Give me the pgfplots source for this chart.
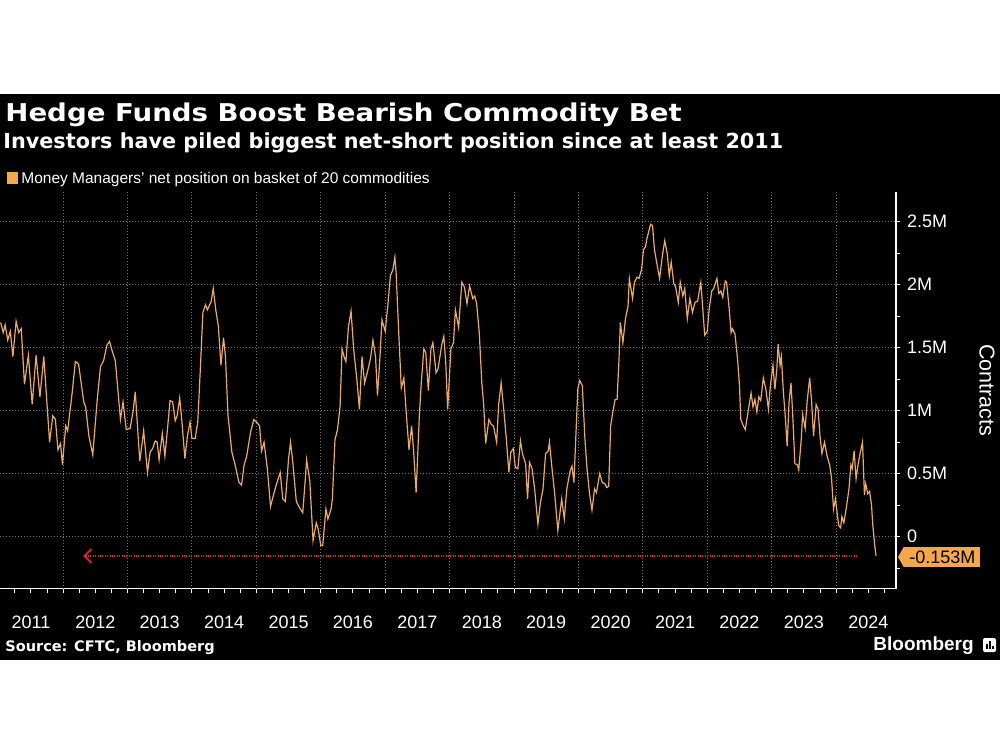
\documentclass[border=0pt]{standalone}
\usepackage{fontspec}
\setmainfont{Liberation Sans}
\newfontfamily\dv{DejaVu Sans}
\usepackage{pgfplots}
\pgfplotsset{compat=1.18}
\usetikzlibrary{arrows.meta}

\definecolor{lineor}{RGB}{236,170,105}
\definecolor{boxor}{RGB}{245,167,75}
\definecolor{gridgray}{RGB}{115,115,115}
\definecolor{sepgray}{RGB}{140,140,140}
\definecolor{redline}{RGB}{210,40,60}

\begin{document}
\begin{tikzpicture}[x=0.5pt,y=0.5pt]
% 1 unit = 1 px of the 1000x750 reference, y measured from the bottom
\useasboundingbox (0,0) rectangle (1000,750);
\fill[white] (0,0) rectangle (1000,750);
\fill[black] (0,90) rectangle (1000,656);

\begin{axis}[
  at={(0,128)}, anchor=south west,
  scale only axis, width=448pt, height=198.5pt,
  xmin=2011.02, xmax=2024.93, ymin=-0.413, ymax=2.738,
  axis x line*=bottom, axis y line*=right,
  axis line style={white, line width=0.6pt},
  tick align=outside,
  major tick length=2pt, minor tick length=2pt,
  tick style={white, line width=0.5pt},
  xtick={2011.5,2012.5,...,2024.5},
  xticklabels={2011,2012,2013,2014,2015,2016,2017,2018,2019,2020,2021,2022,2023,2024},
  minor xtick={2011.25,2011.5,...,2024.75},
  extra x ticks={2012,2013,...,2024},
  extra x tick labels={},
  extra x tick style={grid=major},
  ytick={0,0.5,...,2.5},
  yticklabels={0,0.5M,1M,1.5M,2M,2.5M},
  minor ytick={-0.25,0.25,...,2.25},
  ymajorgrids,
  major grid style={gridgray, line width=0.5pt, dash pattern=on 0.5pt off 1pt},
  ticklabel style={white, font=\fontsize{9}{10}\selectfont},
  xticklabel style={yshift=-8pt},
  ylabel={Contracts},
  every axis y label/.style={at={(rel axis cs:1,0.5)}, anchor=center,
    xshift=45.5pt, rotate=-90, white, font=\fontsize{10.75}{12}\selectfont},
]
% year separators below the axis
\pgfplotsinvokeforeach{2012,2013,...,2024}{
  \draw[sepgray, line width=0.6pt] (axis cs:#1,-0.413) -- ([yshift=-27.5pt]axis cs:#1,-0.413);
}

% current level reference line
\addplot[redline, line width=1pt, dash pattern=on 0.5pt off 0.7pt,
  {Straight Barb[length=3.5pt,width=7pt]}-] coordinates {(2012.31,-0.153) (2024.32,-0.153)};

% money managers' net position, million contracts
\addplot[lineor, line width=0.6pt] coordinates {
(2011.03,1.70)(2011.07,1.62)(2011.10,1.68)(2011.14,1.56)(2011.18,1.63)(2011.22,1.43)
(2011.27,1.71)(2011.31,1.62)(2011.35,1.65)(2011.40,1.21)(2011.46,1.44)(2011.52,1.05)
(2011.58,1.44)(2011.64,1.11)(2011.70,1.43)(2011.79,0.75)(2011.84,0.96)(2011.88,0.93)
(2011.92,0.69)(2011.96,0.74)(2011.99,0.57)(2012.04,0.88)(2012.07,0.84)(2012.14,1.14)
(2012.19,1.39)(2012.24,1.37)(2012.32,1.07)(2012.35,1.03)(2012.40,0.80)(2012.46,0.65)
(2012.53,1.09)(2012.58,1.35)(2012.63,1.40)(2012.68,1.52)(2012.72,1.55)(2012.77,1.46)
(2012.81,1.40)(2012.89,0.93)(2012.93,1.07)(2012.98,0.85)(2013.04,0.86)(2013.09,1.01)
(2013.12,1.15)(2013.19,0.60)(2013.25,0.84)(2013.31,0.51)
(2013.35,0.67)(2013.39,0.70)(2013.43,0.76)(2013.46,0.75)(2013.49,0.61)(2013.54,0.82)
(2013.58,0.64)(2013.61,0.80)(2013.66,1.08)(2013.70,1.07)(2013.74,0.92)(2013.77,0.96)
(2013.81,1.10)(2013.85,0.88)(2013.89,0.62)(2013.93,0.80)(2013.97,0.91)(2014.00,0.78)
(2014.05,0.78)(2014.09,0.91)(2014.13,1.33)(2014.17,1.78)(2014.21,1.84)(2014.24,1.80)
(2014.30,1.87)(2014.33,1.97)(2014.37,1.80)(2014.41,1.67)(2014.45,1.36)(2014.49,1.58)
(2014.52,1.43)(2014.56,0.96)(2014.62,0.67)(2014.67,0.57)(2014.73,0.43)(2014.77,0.41)
(2014.81,0.57)(2014.85,0.64)(2014.91,0.83)(2014.96,0.93)(2015.00,0.91)(2015.05,0.88)
(2015.08,0.68)(2015.12,0.75)(2015.17,0.54)(2015.22,0.24)(2015.27,0.34)(2015.32,0.43)
(2015.37,0.51)(2015.41,0.30)(2015.45,0.28)(2015.50,0.62)(2015.53,0.75)(2015.56,0.62)
(2015.62,0.28)(2015.67,0.23)(2015.72,0.19)(2015.76,0.46)(2015.78,0.61)(2015.83,0.44)
(2015.88,-0.03)(2015.93,0.11)(2015.96,0.06)(2016.00,-0.07)(2016.03,-0.07)(2016.08,0.22)
(2016.11,0.14)(2016.16,0.22)(2016.18,0.30)(2016.22,0.77)(2016.26,0.85)(2016.30,1.04)
(2016.33,1.49)(2016.36,1.43)(2016.39,1.39)(2016.43,1.67)(2016.47,1.79)(2016.51,1.49)
(2016.56,1.25)(2016.60,1.01)(2016.64,1.43)(2016.68,1.22)(2016.72,1.30)(2016.77,1.41)
(2016.81,1.56)(2016.85,1.43)(2016.88,1.12)(2016.91,1.35)(2016.95,1.72)(2017.00,1.63)
(2017.04,1.83)(2017.08,2.07)(2017.12,2.12)(2017.15,2.22)(2017.17,2.09)(2017.21,1.62)
(2017.25,1.18)(2017.29,1.26)(2017.33,0.96)(2017.37,0.69)(2017.41,0.88)(2017.44,0.69)
(2017.48,0.35)(2017.53,0.96)(2017.56,1.22)(2017.60,1.49)(2017.63,1.46)(2017.67,1.16)
(2017.71,1.49)(2017.74,1.54)(2017.79,1.30)(2017.82,1.33)(2017.88,1.53)(2017.91,1.59)
(2017.94,1.38)(2017.97,1.01)(2018.02,1.49)(2018.06,1.54)(2018.09,1.80)(2018.14,1.66)
(2018.19,2.02)(2018.23,1.98)(2018.27,1.85)(2018.31,1.99)(2018.36,1.89)(2018.39,1.91)
(2018.42,1.85)(2018.46,1.62)(2018.50,1.22)(2018.53,1.04)(2018.56,0.74)(2018.61,0.93)
(2018.65,0.89)(2018.68,0.88)(2018.73,0.75)(2018.76,1.04)(2018.80,1.22)(2018.84,1.01)
(2018.88,0.78)(2018.92,0.51)(2018.95,0.67)(2018.99,0.70)(2019.02,0.55)(2019.06,0.54)
(2019.10,0.76)(2019.13,0.66)(2019.18,0.58)(2019.21,0.30)(2019.24,0.59)(2019.28,0.54)
(2019.32,0.38)(2019.37,0.10)(2019.41,0.27)(2019.45,0.38)(2019.49,0.66)(2019.53,0.68)
(2019.55,0.75)(2019.59,0.54)(2019.63,0.35)(2019.68,0.05)(2019.74,0.30)(2019.78,0.14)
(2019.82,0.38)(2019.87,0.52)(2019.90,0.56)(2019.93,0.43)(2019.96,0.80)(2019.99,1.17)
(2020.02,1.24)(2020.06,1.20)(2020.10,0.78)(2020.13,0.56)(2020.17,0.35)(2020.21,0.21)
(2020.25,0.38)(2020.28,0.35)(2020.33,0.50)(2020.37,0.43)(2020.41,0.42)(2020.44,0.39)
(2020.47,0.40)(2020.50,0.88)(2020.54,1.01)(2020.57,1.09)(2020.60,1.09)(2020.63,1.41)
(2020.65,1.70)(2020.69,1.54)(2020.73,1.73)(2020.77,1.83)(2020.79,2.05)(2020.84,1.89)
(2020.87,2.02)(2020.91,2.06)(2020.94,2.05)(2020.98,2.12)(2021.01,2.28)(2021.04,2.30)
(2021.06,2.36)(2021.09,2.42)(2021.12,2.48)(2021.15,2.47)(2021.18,2.28)(2021.22,2.16)
(2021.26,2.05)(2021.30,2.22)(2021.34,2.35)(2021.38,2.24)(2021.41,2.07)(2021.44,2.18)
(2021.48,2.01)(2021.51,1.98)(2021.55,1.86)(2021.58,2.02)(2021.62,1.91)(2021.65,1.97)
(2021.69,1.73)(2021.73,1.89)(2021.77,1.78)(2021.81,1.86)(2021.85,1.87)(2021.90,2.02)
(2021.93,1.81)(2021.96,1.60)(2022.00,1.63)(2022.03,1.81)(2022.07,1.95)(2022.10,1.97)
(2022.15,2.05)(2022.18,1.93)(2022.21,1.95)(2022.24,1.90)(2022.28,2.03)(2022.30,2.02)
(2022.34,1.81)(2022.37,1.62)(2022.39,1.65)(2022.43,1.61)(2022.47,1.41)(2022.50,1.20)
(2022.52,0.93)(2022.56,0.88)(2022.59,0.85)(2022.63,0.98)(2022.68,1.14)(2022.71,1.03)
(2022.74,1.09)(2022.77,0.99)(2022.80,1.11)(2022.83,1.08)(2022.87,1.26)(2022.91,1.17)
(2022.95,1.01)(2022.98,1.20)(2023.02,1.36)(2023.05,1.17)(2023.08,1.33)(2023.10,1.53)
(2023.13,1.36)(2023.15,1.43)(2023.18,1.16)(2023.21,0.96)(2023.24,0.72)(2023.27,1.07)
(2023.30,1.22)(2023.33,0.93)(2023.36,0.58)(2023.40,0.57)(2023.42,0.53)(2023.46,0.78)
(2023.48,0.97)(2023.52,0.86)(2023.55,1.07)(2023.59,1.26)(2023.62,1.07)(2023.65,0.80)
(2023.69,1.05)(2023.72,1.01)(2023.75,0.80)(2023.78,0.66)(2023.82,0.75)(2023.86,0.64)
(2023.90,0.57)(2023.93,0.46)(2023.96,0.22)(2023.99,0.30)(2024.02,0.17)(2024.04,0.09)
(2024.07,0.07)(2024.09,0.16)(2024.12,0.11)(2024.15,0.20)(2024.20,0.38)(2024.23,0.57)
(2024.25,0.54)(2024.28,0.68)(2024.31,0.46)(2024.34,0.57)(2024.38,0.68)(2024.41,0.75)
(2024.44,0.33)(2024.46,0.42)(2024.49,0.34)(2024.52,0.36)(2024.55,0.25)(2024.57,0.09)
(2024.60,-0.07)(2024.62,-0.153)
};
\end{axis}

% header
\node[anchor=base west, inner sep=0, white] at (5,628)
  {\scalebox{1.127}[1]{\dv\bfseries\fontsize{12.25}{14}\selectfont Hedge Funds Boost Bearish Commodity Bet}};
\node[anchor=base west, inner sep=0, white] at (3,601.5)
  {\dv\bfseries\fontsize{10.375}{12}\selectfont Investors have piled biggest net-short position since at least 2011};
% legend
\fill[boxor] (7,566) rectangle (18,578);
\node[anchor=base west, inner sep=0, white] at (21,566)
  {\fontsize{7.75}{9}\selectfont Money Managers' net position on basket of 20 commodities};

% last value label
\node[fill=boxor, text=black, anchor=west, inner xsep=2.5pt, inner ysep=0pt, minimum height=10pt,
  font=\fontsize{9}{10}\selectfont] (lab) at (904,193) {-0.153M};
\fill[boxor] (lab.north west) -- ([xshift=-3pt]lab.west) -- (lab.south west) -- cycle;

% footer
\node[anchor=base west, inner sep=0, white] at (5,98.5)
  {\dv\bfseries\fontsize{7.25}{9}\selectfont Source: CFTC, Bloomberg};
\node[anchor=base west, inner sep=0, white] at (873,100)
  {\bfseries\fontsize{9.5}{11}\selectfont Bloomberg};
\fill[white, rounded corners=1pt] (983,98) rectangle (996,112);
\fill[black] (986,101) rectangle (987.5,106);
\fill[black] (989,101) rectangle (990.5,109);
\fill[black] (992,101) rectangle (993.5,104);
\end{tikzpicture}
\end{document}
